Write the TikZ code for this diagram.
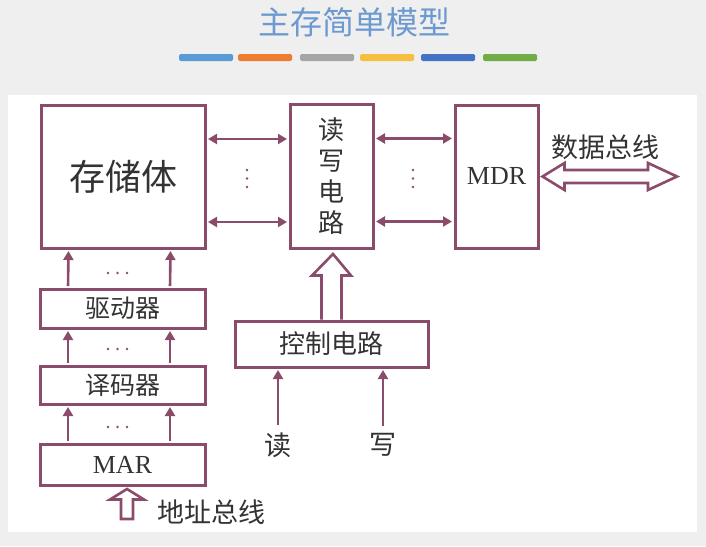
\documentclass[tikz,border=0pt]{standalone}
\usepackage{fontspec}
\setmainfont{Liberation Serif}
\newfontfamily\cjk{Noto Sans CJK SC}
\usetikzlibrary{arrows.meta,calc}
\definecolor{wine}{HTML}{8B4B6B}
\definecolor{ink}{HTML}{333333}
\definecolor{titleblue}{HTML}{6C9AD0}
\definecolor{pagegray}{HTML}{EFEFEF}
\definecolor{barA}{HTML}{5B9BD5}
\definecolor{barB}{HTML}{ED7D31}
\definecolor{barC}{HTML}{A5A5A5}
\definecolor{barD}{HTML}{F5C040}
\definecolor{barE}{HTML}{4472C4}
\definecolor{barF}{HTML}{70AD47}
\begin{document}
\begin{tikzpicture}[x=1pt,y=-1pt,
  box/.style={draw=wine,line width=3pt,fill=white,inner sep=0pt,text=ink},
  cn/.style={font=\cjk\fontsize{#1}{#1}\selectfont},
  cn/.default=26,
  latin/.style={font=\fontsize{#1}{#1}\selectfont},
  sig/.style={draw=wine,line width=2.6pt,-{Triangle[length=9pt,width=10pt]}},
  dsig/.style={draw=wine,line width=2.6pt,{Triangle[length=9pt,width=10pt]}-{Triangle[length=9pt,width=10pt]}},
  bus/.style={draw=wine,line width=2.6pt,fill=white,line join=miter},
  dotmark/.style={fill=wine,draw=none},
  colorbar/.style={rounded corners=1.5pt,draw=none},
  lbl/.style={text=ink,inner sep=0pt}]

\useasboundingbox (0,0) rectangle (706,546);
\fill[pagegray] (0,0) rectangle (706,546);
\fill[white] (8,95) rectangle (697,532);

% heading and colour strip
\node[text=titleblue,cn=32,inner sep=0pt] (title) at (354,22) {主存简单模型};
\foreach \x/\c in {179/barA,238/barB,300/barC,360/barD,421/barE,483/barF}
  \fill[\c,colorbar] (\x,54) rectangle ++(54,7);

% main blocks
\node[box,minimum width=164pt,minimum height=143pt,cn=36] (mem) at (123,176.5) {存储体};
\node[box,minimum width=83pt,minimum height=144pt,cn=26,align=center,
      font=\cjk\fontsize{26}{31}\selectfont] (rw) at (331.5,176) {读\\写\\电\\路};
\node[box,minimum width=83pt,minimum height=143pt,latin=26] (mdr) at (496.5,176.5) {MDR};
\node[box,minimum width=165pt,minimum height=39pt,cn=25] (drv) at (122.5,308.5) {驱动器};
\node[box,minimum width=165pt,minimum height=38pt,cn=25] (dec) at (122.5,385) {译码器};
\node[box,minimum width=165pt,minimum height=41pt,latin=26] (mar) at (122.5,464.5) {MAR};
\node[box,minimum width=193pt,minimum height=46pt,cn=26] (ctl) at (331.5,344) {控制电路};

% labels
\node[lbl,cn=27] (dbuslbl) at (605,147) {数据总线};
\node[lbl,cn=27] (abuslbl) at (211,512) {地址总线};
\node[lbl,cn=27] (rd) at (278,445) {读};
\node[lbl,cn=27] (wr) at (383,445) {写};

% data lines between store, read/write circuit and MDR
\draw[dsig,shorten <=1.5pt,shorten >=1.5pt] ([yshift=37.5pt]mem.east) -- ([yshift=37.5pt]mem.east -| rw.west);
\draw[dsig,shorten <=1.5pt,shorten >=1.5pt] ([yshift=-45.5pt]mem.east) -- ([yshift=-45.5pt]mem.east -| rw.west);
\draw[dsig,shorten <=1.5pt,shorten >=1.5pt] ([yshift=37.5pt]rw.east) -- ([yshift=37.5pt]rw.east -| mdr.west);
\draw[dsig,shorten <=1.5pt,shorten >=1.5pt] ([yshift=-45.5pt]rw.east) -- ([yshift=-45.5pt]rw.east -| mdr.west);
\foreach \x in {247,413}
  \foreach \y in {170,178.5,187}
    \fill[dotmark] (\x,\y) circle (1.3pt);

% address path: MAR -> decoder -> driver -> store
\foreach \dx in {-54.5,47.5}{
  \draw[sig,shorten <=1.5pt,shorten >=1.5pt] ([xshift=\dx pt]mar.north) -- ([xshift=\dx pt]dec.south);
  \draw[sig,shorten <=1.5pt,shorten >=1.5pt] ([xshift=\dx pt]dec.north) -- ([xshift=\dx pt]drv.south);
  \draw[sig,shorten <=1.5pt,shorten >=1.5pt] ([xshift=\dx pt]drv.north) -- ([xshift=\dx pt]mem.south);
}
\foreach \y in {273,349,427}
  \foreach \x in {108,117.5,127}
    \fill[dotmark] (\x,\y) circle (1.3pt);

% read / write control inputs
\draw[sig,shorten <=7pt,shorten >=1.5pt] (rd.north) -- (rd.north |- ctl.south);
\draw[sig,shorten <=7pt,shorten >=1.5pt] (wr.north) -- (wr.north |- ctl.south);

% control bus into the read/write circuit (hollow arrow)
\draw[bus] ($(ctl.north)+(-10,0)$) -- ++(0,-44) -- ++(-9.5,0)
  -- ($(rw.south)+(1.5,4.5)$) -- ($(ctl.north)+(19.5,-44)$) -- ++(-9.5,0) -- ++(0,44);

% address bus into MAR (hollow arrow)
\coordinate (abus) at (127,519);
\draw[bus] ($(mar.south)+(4.5,2.5)$) -- ($(mar.south)+(21.5,13)$) -- ($(mar.south)+(10.5,13)$)
  -- (abus -| 133,0) -- (abus -| 121,0) -- ($(mar.south)+(-1.5,13)$) -- ($(mar.south)+(-12.5,13)$) -- cycle;

% bidirectional data bus at MDR (hollow double arrow)
\coordinate (dbus) at (677,176.5);
\draw[bus] ($(mdr.east)+(3,0)$) -- ++(22,-13.5) -- ++(0,7) -- ($(dbus)+(-29,-6.5)$) -- ++(0,-7)
  -- (dbus) -- ++(-29,13.5) -- ++(0,-7) -- ($(mdr.east)+(25,6.5)$) -- ++(0,7) -- cycle;

\end{tikzpicture}
\end{document}
